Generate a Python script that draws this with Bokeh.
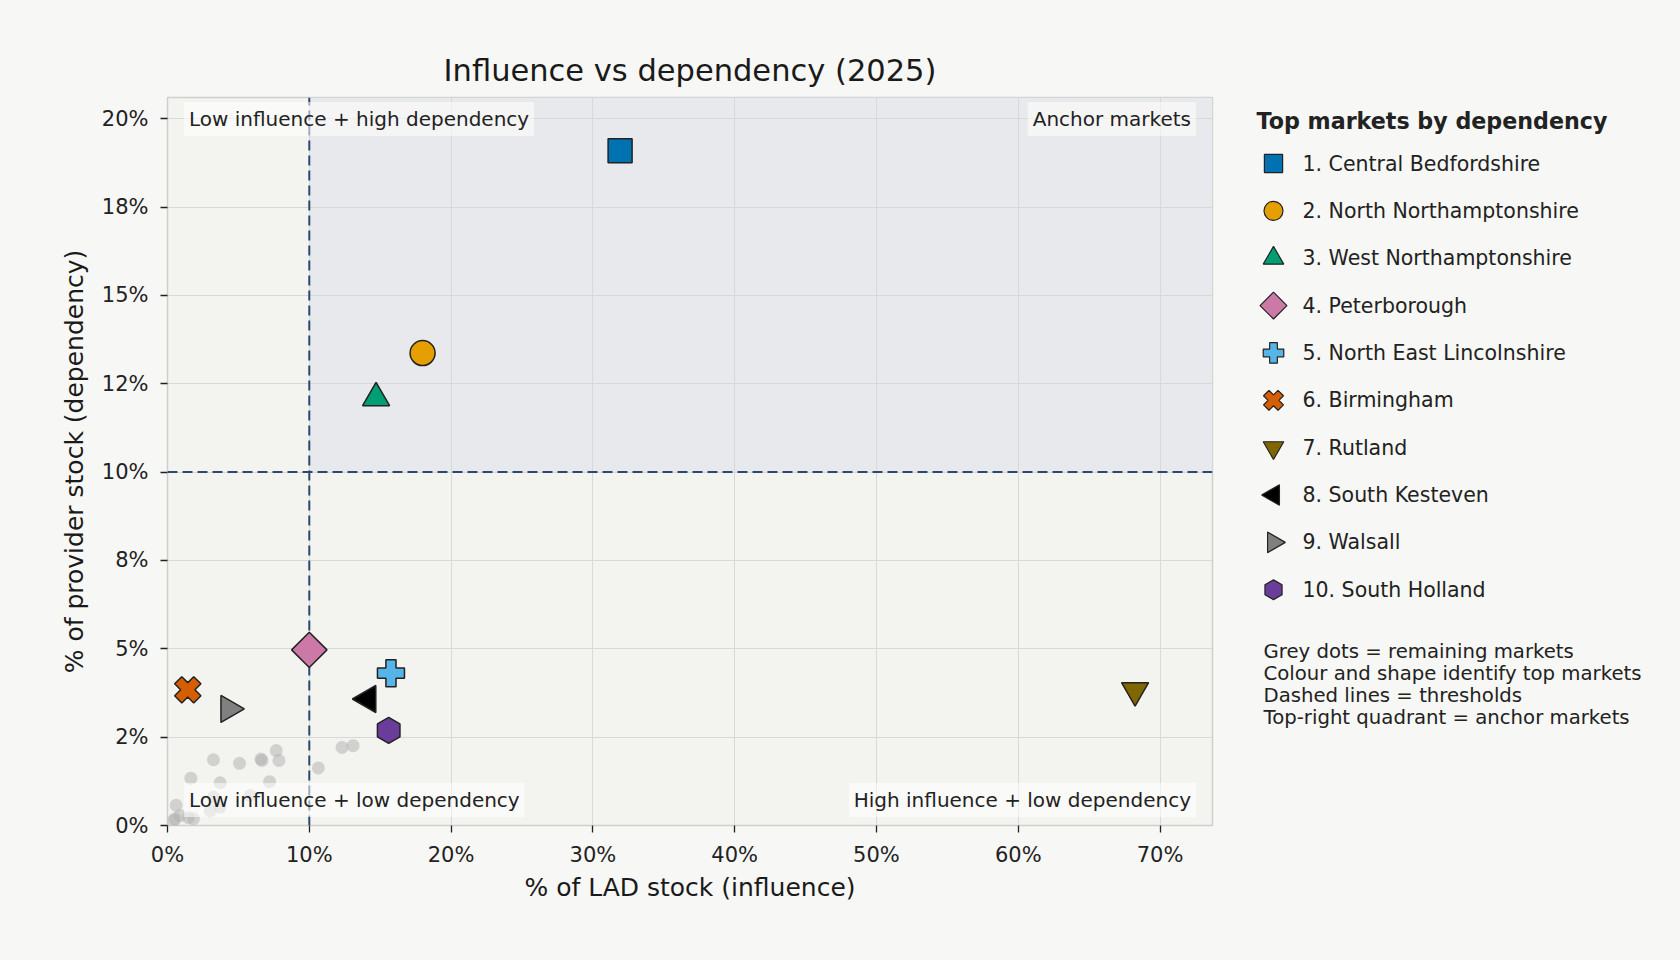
import math
from bokeh.plotting import figure
from bokeh.layouts import row
from bokeh.models import BoxAnnotation, Label, FixedTicker, Range1d
from bokeh.core.properties import value
from bokeh.embed import file_html
from bokeh.resources import INLINE

# ---------------- data ----------------
markets = [
    "1. Central Bedfordshire",
    "2. North Northamptonshire",
    "3. West Northamptonshire",
    "4. Peterborough",
    "5. North East Lincolnshire",
    "6. Birmingham",
    "7. Rutland",
    "8. South Kesteven",
    "9. Walsall",
    "10. South Holland",
]
ranks = [1, 2, 3, 4, 5, 6, 7, 8, 9, 10]
influence = [31.92, 17.99, 14.71, 10.00, 15.76, 1.43, 68.24, 14.14, 4.32, 15.60]
dependency = [19.09, 13.37, 12.10, 4.97, 4.31, 3.84, 3.82, 3.58, 3.30, 2.69]
market_colors = ["#0072B2", "#E69F00", "#009E73", "#CC79A7", "#56B4E9",
                 "#D55E00", "#806600", "#000000", "#808080", "#6A3D9A"]
market_markers = ["square", "circle", "triangle", "square", "plus",
                  "plus", "inverted_triangle", "triangle", "triangle", "hex"]
market_angles_deg = [0, 0, 0, 45, 0, 45, 0, 90, -90, 90]
market_sizes = [24, 25, 27, 25, 27, 27, 27, 27, 27, 26]

other_influence = [3.24, 5.08, 6.59, 6.66, 7.67, 7.86, 1.65, 3.71, 7.20, 10.64,
                   12.31, 13.09, 0.61, 3.24, 5.83, 3.01, 3.71, 0.89, 1.48, 0.54,
                   1.83, 0.42]
other_dependency = [1.86, 1.76, 1.88, 1.84, 2.12, 1.84, 1.34, 1.21, 1.24, 1.63,
                    2.21, 2.26, 0.57, 0.80, 0.85, 0.42, 0.52, 0.28, 0.22, 0.19,
                    0.19, 0.14]

influence_threshold = 10
dependency_threshold = 10

x_ticks = [0, 10, 20, 30, 40, 50, 60, 70]
x_tick_labels = ["0%", "10%", "20%", "30%", "40%", "50%", "60%", "70%"]
y_ticks = [0, 2.5, 5, 7.5, 10, 12.5, 15, 17.5, 20]
y_tick_labels = ["0%", "2%", "5%", "8%", "10%", "12%", "15%", "18%", "20%"]

X_MAX = 73.7
Y_MAX = 20.6

legend_title = "Top markets by dependency"
notes = [
    "Grey dots = remaining markets",
    "Colour and shape identify top markets",
    "Dashed lines = thresholds",
    "Top-right quadrant = anchor markets",
]

FONT = "DejaVu Sans"
TXT = "#222222"
PAGE = "#f7f7f5"

# ---------------- main scatter ----------------
W, H = 1680, 960
MAIN_W = 1232
LEFT, RIGHT, TOP, BOTTOM = 167, 20, 97, 135
FRAME_W = MAIN_W - LEFT - RIGHT
FRAME_H = H - TOP - BOTTOM

p = figure(width=MAIN_W, height=H, output_backend="svg", toolbar_location=None,
           x_range=Range1d(0, X_MAX), y_range=Range1d(0, Y_MAX),
           min_border_left=LEFT, min_border_right=RIGHT,
           min_border_top=TOP, min_border_bottom=BOTTOM,
           title="Influence vs dependency (2025)")
p.border_fill_color = PAGE
p.background_fill_color = "#f3f4ef"
p.outline_line_color = "#cfcfcf"
p.outline_line_width = 1.5

p.title.text_font = FONT
p.title.text_font_size = "30.5px"
p.title.text_font_style = "normal"
p.title.text_color = "#1a1a1a"
p.title.align = "center"
p.title.standoff = 20

p.xaxis.ticker = FixedTicker(ticks=x_ticks)
p.xaxis.major_label_overrides = {t: l for t, l in zip(x_ticks, x_tick_labels)}
p.yaxis.ticker = FixedTicker(ticks=y_ticks)
p.yaxis.major_label_overrides = {t: l for t, l in zip(y_ticks, y_tick_labels)}
p.xaxis.axis_label = "% of LAD stock (influence)"
p.yaxis.axis_label = "% of provider stock (dependency)"
for ax in (p.xaxis, p.yaxis):
    ax.axis_label_text_font = FONT
    ax.axis_label_text_font_size = "25px"
    ax.axis_label_text_font_style = "normal"
    ax.axis_label_text_color = "#1a1a1a"
    ax.major_label_text_font = FONT
    ax.major_label_text_font_size = "21px"
    ax.major_label_text_color = TXT
    ax.axis_line_color = None
    ax.major_tick_line_color = TXT
    ax.major_tick_line_width = 1.3
    ax.major_tick_out = 7
    ax.major_tick_in = 0
    ax.minor_tick_line_color = None
p.xaxis.major_label_standoff = 10
p.xaxis.axis_label_standoff = 3
p.yaxis.major_label_standoff = 12
p.yaxis.axis_label_standoff = 10

p.grid.grid_line_color = "#d8d8d8"
p.grid.grid_line_width = 1

# anchor quadrant shading
p.add_layout(BoxAnnotation(left=influence_threshold, bottom=dependency_threshold,
                           fill_color="#e8e9ec", fill_alpha=1.0, line_color=None,
                           level="image"))

# thresholds (dashed)
p.segment(x0=[influence_threshold], x1=[influence_threshold],
          y0=[0], y1=[Y_MAX], line_color="#2c4770", line_width=2,
          line_dash="10 5")
p.segment(x0=[0], x1=[X_MAX], y0=[dependency_threshold],
          y1=[dependency_threshold], line_color="#2c4770", line_width=2,
          line_dash="10 5")

# remaining markets
p.scatter(x=other_influence, y=other_dependency, size=13, marker="circle",
          fill_color="#b0b0b0", fill_alpha=0.5, line_color=None)

# top markets
p.scatter(x=influence, y=dependency, marker=market_markers, size=market_sizes,
          angle=[math.radians(a) for a in market_angles_deg],
          fill_color=market_colors, line_color="#222222", line_width=1.5)

# quadrant labels
quad = [
    ("Low influence + high dependency", 16.5, FRAME_H - 4.5, "left", "top"),
    ("Anchor markets", FRAME_W - 16.5, FRAME_H - 4.5, "right", "top"),
    ("Low influence + low dependency", 16.5, 8.5, "left", "bottom"),
    ("High influence + low dependency", FRAME_W - 16.5, 8.5, "right", "bottom"),
]
for t, xx, yy, al, bl in quad:
    p.add_layout(Label(x=xx, y=yy, x_units="screen", y_units="screen", text=t,
                       text_font=FONT, text_font_size="20px", text_color=TXT,
                       text_align=al, text_baseline=bl,
                       background_fill_color="white", background_fill_alpha=0.55,
                       padding=5))

# ---------------- legend panel ----------------
LEG_W = W - MAIN_W
ITEM_Y0, ITEM_DY = 163.0, 47.36          # pixel centre of rank 1, pixel step
rank_top = 1 - (ITEM_Y0 - TOP) / ITEM_DY
rank_bottom = 1 + (H - BOTTOM - ITEM_Y0) / ITEM_DY

lg = figure(width=LEG_W, height=H, output_backend="svg", toolbar_location=None,
            x_range=Range1d(0, LEG_W), y_range=Range1d(rank_bottom, rank_top),
            x_axis_type=None, y_axis_type=None,
            min_border_left=0, min_border_right=0,
            min_border_top=TOP, min_border_bottom=BOTTOM)
lg.border_fill_color = PAGE
lg.background_fill_alpha = 0
lg.outline_line_color = None
lg.grid.visible = False

lg.scatter(x=[41] * len(ranks), y=ranks, marker=market_markers,
           size=[s * 0.76 for s in market_sizes],
           angle=[math.radians(a) for a in market_angles_deg],
           fill_color=market_colors, line_color="#222222", line_width=1.2)
lg.text(x=[70] * len(ranks), y=ranks, text=markets, text_font=value(FONT),
        text_font_size="20.5px", text_color=TXT, text_baseline="middle",
        text_align="left")

# labels in screen units relative to the frame (left = 0, bottom = H - BOTTOM)
lg.add_layout(Label(x=24, y=H - BOTTOM - 120, x_units="screen", y_units="screen",
                    text=legend_title, text_font=FONT, text_font_size="22.2px",
                    text_font_style="bold", text_color=TXT,
                    text_baseline="middle", text_align="left"))

note_px = [651, 673, 695, 717]
for t, yy in zip(notes, note_px):
    lg.add_layout(Label(x=31, y=H - BOTTOM - yy, x_units="screen", y_units="screen",
                        text=t, text_font=FONT, text_font_size="19.7px",
                        text_color=TXT, text_baseline="middle", text_align="left"))

layout = row(p, lg, spacing=0)
layout.styles = {"background-color": PAGE}
open("out.html", "w").write(file_html(layout, INLINE))
